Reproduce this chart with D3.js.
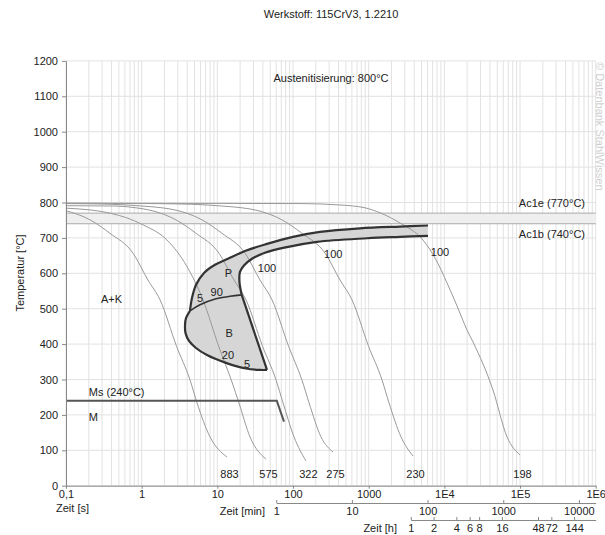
<!DOCTYPE html>
<html>
<head>
<meta charset="utf-8">
<script src="https://cdn.jsdelivr.net/npm/d3@7"></script>
<style>
  html, body { margin: 0; padding: 0; background: #fff; }
  svg { display: block; font-family: "Liberation Sans", Arial, sans-serif; }
</style>
</head>
<body>
<svg id="chart" width="605" height="535"></svg>
<script>
// ---------------- data ----------------
const secTicks = [0.1, 1, 10, 100, 1000, 1e4, 1e5, 1e6];
const secLabels = ["0,1", "1", "10", "100", "1000", "1E4", "1E5", "1E6"];
const minTicks = [1, 10, 100, 1000, 10000];
const minLabels = ["1", "10", "100", "1000", "10000"];
const hourTicks = [1, 2, 4, 6, 8, 16, 48, 72, 144];
const hourLabels = ["1", "2", "4", "6", "8", "16", "48", "72", "144"];
const tempTicks = [0, 100, 200, 300, 400, 500, 600, 700, 800, 900, 1000, 1100, 1200];

// cooling curves: [time s, temperature °C]
const curve883 = [[0.1,777],[0.208,751],[0.381,713],[0.768,657],[1.21,581],[1.75,525],[2.9,393],[4.35,299],[5.39,234],[8.0,138],[13.4,81]];
const curve575 = [[0.1,784],[0.381,770],[1.04,737],[2.16,694],[3.97,619],[6.46,525],[10.5,392],[15.6,293],[19.3,234],[27,138],[43.9,75]];
const curve322 = [[0.1,791],[0.458,790],[0.841,785],[1.37,777],[2.84,751],[5.22,713],[10.5,657],[16.6,581],[23.9,525],[39.7,393],[59.6,299],[73.8,234],[103,138],[148,70]];
const curve275 = [[0.1,797],[0.405,795],[1.01,790],[1.86,785],[3.02,777],[6.27,751],[11.5,713],[23.2,657],[36.6,581],[52.8,525],[87.7,393],[131,299],[163,234],[234,138],[338,95]];
const curve230 = [[0.1,798],[1.29,797],[4.62,795],[11.5,790],[21.2,785],[34.5,777],[71.5,751],[131,713],[265,657],[418,581],[602,525],[1000,393],[1500,299],[1856,234],[2673,138],[3852,84]];
const curve198 = [[0.1,798],[124,797],[418,793],[894,785],[1411,771],[2594,742],[5222,694],[7762,638],[10840,573],[14690,508],[19910,440],[23910,406],[43950,270],[67300,138],[100000,87]];
const coolingCurves = [curve883, curve575, curve322, curve275, curve230, curve198];
const hardness = ["883", "575", "322", "275", "230", "198"];

// transformation boundaries
const pearliteStart = [[4.35,494],[4.62,530],[5.22,567],[6.66,601],[9.32,624],[13.8,641],[23.2,663],[45.3,683],[100,703],[227,717],[767,727],[2593,732],[6080,735]];
const pearliteEnd = [[21.0,539],[19.6,575],[19.9,604],[22.5,622],[28.7,641],[42.6,658],[73.8,672],[207,689],[950,699],[2593,703],[6080,706]];
const pbSeparator = [[4.35,494],[5.90,511],[9.60,528],[14.7,535],[21.0,539]];
const bainiteStart = [[4.35,494],[3.86,474],[3.74,454],[3.80,431],[4.22,409],[5.22,389],[7.30,369],[13.0,347],[23.9,331],[36.6,327],[45.3,327]];
const bainiteRight = [[45.3,327],[21.0,539]];
const msLine = [[0.1,240],[61,240],[76,181]];

const Ac1e = 770, Ac1b = 740;

const regionLabels = [
  {text:"5", t:5.9, T:530}, {text:"90", t:9.8, T:547}, {text:"P", t:14.0, T:600},
  {text:"B", t:14.3, T:431}, {text:"20", t:13.8, T:369}, {text:"5", t:24.7, T:344},
  {text:"100", t:45.3, T:614}, {text:"100", t:340, T:654}, {text:"100", t:8770, T:661},
  {text:"A+K", t:0.40, T:527}
];

// ---------------- drawing ----------------
const svg = d3.select("#chart");
const x = d3.scaleLog().domain([0.1, 1e6]).range([66, 595.7]);
const y = d3.scaleLinear().domain([0, 1200]).range([485.7, 60.9]);
const xMin = d3.scaleLog().domain([1, 1e6/60]).range([x(60), x(1e6)]);
const xHour = d3.scaleLog().domain([1, 1e6/3600]).range([x(3600), x(1e6)]);

const font = "Liberation Sans, Arial, sans-serif";
const txt = "#222";

// title
svg.append("text").attr("x", 331).attr("y", 18).attr("text-anchor", "middle")
  .attr("font-size", 11).attr("fill", txt).text("Werkstoff: 115CrV3, 1.2210");

// grid
const grid = svg.append("g");
const minorX = [];
for (let e = -1; e < 6; e++) for (let m = 1; m < 10; m++) minorX.push(m * Math.pow(10, e));
minorX.push(1e6);
grid.selectAll("line.v").data(minorX).join("line")
  .attr("x1", d => x(d)).attr("x2", d => x(d)).attr("y1", y(1200)).attr("y2", y(0))
  .attr("stroke", "#e2e2e2").attr("stroke-width", 1);
grid.selectAll("line.h").data(tempTicks).join("line")
  .attr("x1", x(0.1)).attr("x2", x(1e6)).attr("y1", d => y(d)).attr("y2", d => y(d))
  .attr("stroke", "#e2e2e2").attr("stroke-width", 1);

// Ac1 band
svg.append("rect").attr("x", x(0.1)).attr("y", y(Ac1e)).attr("width", x(1e6) - x(0.1))
  .attr("height", y(Ac1b) - y(Ac1e)).attr("fill", "#efefef");
[Ac1e, Ac1b].forEach(v => svg.append("line").attr("x1", x(0.1)).attr("x2", x(1e6))
  .attr("y1", y(v)).attr("y2", y(v)).attr("stroke", "#aaa").attr("stroke-width", 1));
svg.append("text").attr("x", 585).attr("y", y(Ac1e) - 6).attr("text-anchor", "end")
  .attr("font-size", 11).attr("fill", txt).text("Ac1e (770°C)");
svg.append("text").attr("x", 585).attr("y", y(Ac1b) + 14).attr("text-anchor", "end")
  .attr("font-size", 11).attr("fill", txt).text("Ac1b (740°C)");

svg.append("text").attr("x", 331).attr("y", 82).attr("text-anchor", "middle")
  .attr("font-size", 11).attr("fill", txt).text("Austenitisierung: 800°C");

// transformation regions
const lineC = d3.line().x(d => x(d[0])).y(d => y(d[1])).curve(d3.curveCatmullRom.alpha(0.5));
const lineL = d3.line().x(d => x(d[0])).y(d => y(d[1]));
const join = segs => segs.map((s, i) => i === 0 ? s : s.replace(/^M/, "L")).join("") + "Z";

const pFill = join([lineC(pearliteStart), lineL([pearliteStart[pearliteStart.length-1], pearliteEnd[pearliteEnd.length-1]]),
  lineC(pearliteEnd.slice().reverse()), lineC(pbSeparator.slice().reverse())]);
const bFill = join([lineC(pbSeparator), lineL(bainiteRight), lineC(bainiteStart.slice().reverse())]);
svg.append("path").attr("d", pFill).attr("fill", "#d6d6d6");
svg.append("path").attr("d", bFill).attr("fill", "#d6d6d6");

// cooling curves
const lineM = d3.line().x(d => x(d[0])).y(d => y(d[1])).curve(d3.curveMonotoneX);
svg.append("g").selectAll("path").data(coolingCurves).join("path")
  .attr("d", lineM).attr("fill", "none").attr("stroke", "#9a9a9a").attr("stroke-width", 1);

// boundaries
const strokeB = (d, w) => svg.append("path").attr("d", d).attr("fill", "none")
  .attr("stroke", "#333").attr("stroke-width", w).attr("stroke-linejoin", "round");
strokeB(lineC(pearliteStart), 2.2);
strokeB(lineC(pearliteEnd), 2.2);
strokeB(lineC(pbSeparator), 1.6);
strokeB(lineC(bainiteStart), 2.2);
strokeB(lineL(bainiteRight), 2.2);

// Ms line
svg.append("path").attr("d", lineL(msLine)).attr("fill", "none").attr("stroke", "#555").attr("stroke-width", 2);
svg.append("text").attr("x", x(0.2)).attr("y", y(240) - 5).attr("font-size", 11).attr("fill", txt).text("Ms (240°C)");
svg.append("text").attr("x", x(0.2)).attr("y", y(240) + 20).attr("font-size", 11).attr("fill", txt).text("M");

// region labels
svg.append("g").selectAll("text").data(regionLabels).join("text")
  .attr("x", d => x(d.t)).attr("y", d => y(d.T)).attr("text-anchor", "middle")
  .attr("dominant-baseline", "central").attr("font-size", 11).attr("fill", txt).text(d => d.text);

// hardness labels
svg.append("g").selectAll("text").data(coolingCurves).join("text")
  .attr("x", d => x(d[d.length-1][0]) + 2.5).attr("y", y(0) - 8).attr("text-anchor", "middle")
  .attr("font-size", 11).attr("fill", txt).text((d, i) => hardness[i]);

// axes
const styleAxis = g => {
  g.selectAll("path.domain").attr("stroke", "#888");
  g.selectAll(".tick line").attr("stroke", "#888");
  g.selectAll(".tick text").attr("fill", txt).attr("font-size", 11).attr("font-family", font);
};
svg.append("g").attr("transform", `translate(${x(0.1)},0)`)
  .call(d3.axisLeft(y).tickValues(tempTicks).tickFormat(d3.format("d")).tickSizeInner(4).tickSizeOuter(0).tickPadding(4))
  .call(styleAxis);
svg.append("g").attr("transform", `translate(0,${y(0)})`)
  .call(d3.axisBottom(x).tickValues(secTicks).tickFormat((d, i) => secLabels[i]).tickSizeInner(3).tickSizeOuter(0).tickPadding(2))
  .call(styleAxis);
svg.append("g").attr("transform", `translate(0,503)`)
  .call(d3.axisBottom(xMin).tickValues(minTicks).tickFormat((d, i) => minLabels[i]).tickSizeInner(-3).tickSizeOuter(0).tickPadding(4))
  .call(styleAxis);
svg.append("g").attr("transform", `translate(0,520)`)
  .call(d3.axisBottom(xHour).tickValues(hourTicks).tickFormat((d, i) => hourLabels[i]).tickSizeInner(-3).tickSizeOuter(0).tickPadding(4))
  .call(styleAxis);

svg.append("text").attr("x", 56).attr("y", 512).attr("font-size", 11).attr("fill", txt).text("Zeit [s]");
svg.append("text").attr("x", 265).attr("y", 515).attr("text-anchor", "end").attr("font-size", 11).attr("fill", txt).text("Zeit [min]");
svg.append("text").attr("x", 397).attr("y", 532).attr("text-anchor", "end").attr("font-size", 11).attr("fill", txt).text("Zeit [h]");

svg.append("text").attr("transform", "translate(24,273) rotate(-90)").attr("text-anchor", "middle")
  .attr("font-size", 11).attr("fill", txt).text("Temperatur [°C]");

svg.append("text").attr("transform", "translate(596,62) rotate(90)").attr("font-size", 11)
  .attr("fill", "#cfcfcf").text("© Datenbank StahlWissen");
</script>
</body>
</html>
